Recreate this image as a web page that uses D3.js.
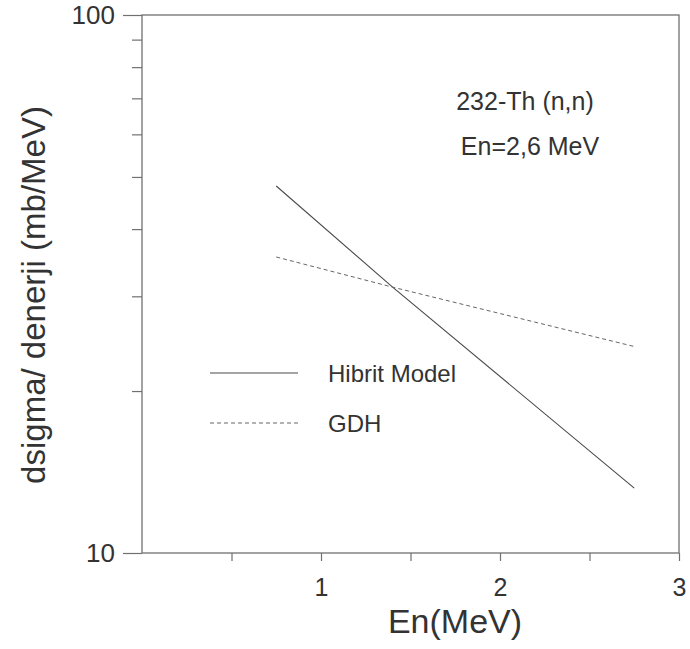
<!DOCTYPE html>
<html>
<head>
<meta charset="utf-8">
<script src="https://cdn.jsdelivr.net/npm/d3@7"></script>
<style>
  body { margin: 0; background: #fff; }
  text { font-family: "Liberation Sans", Arial, sans-serif; fill: #333; }
</style>
</head>
<body>
<svg id="chart" width="690" height="649"></svg>
<script>
// Energy (MeV) and differential cross section (mb/MeV)
const energy = [0.75, 1.4, 2.75];
const hibrit = [48.1, 31.2, 13.2];
const gdh = [35.5, 31.2, 24.2];
const xTickValues = [0.5, 1, 1.5, 2, 2.5, 3];
const xTickLabels = ["", "1", "", "2", "", "3"];
const yMinorTicks = [20, 30, 40, 50, 60, 70, 80, 90];
const yMajorTicks = [10, 100];

const svg = d3.select("#chart");
const plotLeft = 142, plotRight = 679, plotTop = 15, plotBottom = 553;

const x = d3.scaleLinear().domain([0, 3]).range([plotLeft, plotRight]);
const y = d3.scaleLog().domain([10, 100]).range([plotBottom, plotTop]);

const axisColor = "#707070";
const lineColor = "#4a4a4a";
const fontFamily = "Liberation Sans, Arial, sans-serif";

// Frame
svg.append("rect")
  .attr("x", plotLeft).attr("y", plotTop)
  .attr("width", plotRight - plotLeft).attr("height", plotBottom - plotTop)
  .attr("fill", "none").attr("stroke", axisColor).attr("stroke-width", 1.3);

// X axis
const xAxis = d3.axisBottom(x)
  .tickValues(xTickValues)
  .tickSize(8)
  .tickPadding(17)
  .tickFormat((d, i) => xTickLabels[i]);
const gx = svg.append("g").attr("transform", `translate(0,${plotBottom})`).call(xAxis);
gx.select(".domain").remove();
gx.selectAll(".tick line").attr("stroke", axisColor).attr("stroke-width", 1.2);
gx.selectAll(".tick text").style("font-size", "25px").attr("fill", "#333")
  .style("font-family", fontFamily);

// Y axis: major ticks with labels
const yAxisMajor = d3.axisLeft(y)
  .tickValues(yMajorTicks)
  .tickSize(19)
  .tickPadding(8)
  .tickFormat(d3.format("d"));
const gy = svg.append("g").attr("transform", `translate(${plotLeft},0)`).call(yAxisMajor);
gy.select(".domain").remove();
gy.selectAll(".tick line").attr("stroke", axisColor).attr("stroke-width", 1.2);
gy.selectAll(".tick text").style("font-size", "26px").attr("fill", "#333")
  .style("font-family", fontFamily);

// Y axis: minor ticks
const yAxisMinor = d3.axisLeft(y)
  .tickValues(yMinorTicks)
  .tickSize(10)
  .tickFormat("");
const gy2 = svg.append("g").attr("transform", `translate(${plotLeft},0)`).call(yAxisMinor);
gy2.select(".domain").remove();
gy2.selectAll(".tick line").attr("stroke", axisColor).attr("stroke-width", 1.2);

// Series
const line = d3.line().x(d => x(d[0])).y(d => y(d[1]));
svg.append("path")
  .datum(energy.map((e, i) => [e, hibrit[i]]))
  .attr("d", line)
  .attr("fill", "none").attr("stroke", lineColor).attr("stroke-width", 1.1);
svg.append("path")
  .datum(energy.map((e, i) => [e, gdh[i]]))
  .attr("d", line)
  .attr("fill", "none").attr("stroke", "#666").attr("stroke-width", 1)
  .attr("stroke-dasharray", "4,3");

// Legend
const legend = [
  { label: "Hibrit Model", dash: null, yPos: 373 },
  { label: "GDH", dash: "4,3", yPos: 423 }
];
legend.forEach(l => {
  svg.append("line")
    .attr("x1", 210).attr("x2", 298)
    .attr("y1", l.yPos).attr("y2", l.yPos)
    .attr("stroke", l.dash ? "#666" : lineColor)
    .attr("stroke-width", 1.1)
    .attr("stroke-dasharray", l.dash);
  svg.append("text")
    .attr("x", 328).attr("y", l.yPos + 9)
    .style("font-size", "24px")
    .text(l.label);
});

// Annotation
svg.append("text").attr("x", 525).attr("y", 110).attr("text-anchor", "middle")
  .style("font-size", "25px").text("232-Th (n,n)");
svg.append("text").attr("x", 530).attr("y", 155).attr("text-anchor", "middle")
  .style("font-size", "25px").text("En=2,6 MeV");

// Axis titles
svg.append("text")
  .attr("x", 455).attr("y", 633).attr("text-anchor", "middle")
  .style("font-size", "34px").text("En(MeV)");
svg.append("text")
  .attr("transform", "translate(33,295) rotate(-90)")
  .attr("text-anchor", "middle").attr("dy", "0.35em")
  .style("font-size", "33px").text("dsigma/ denerji (mb/MeV)");
</script>
</body>
</html>
